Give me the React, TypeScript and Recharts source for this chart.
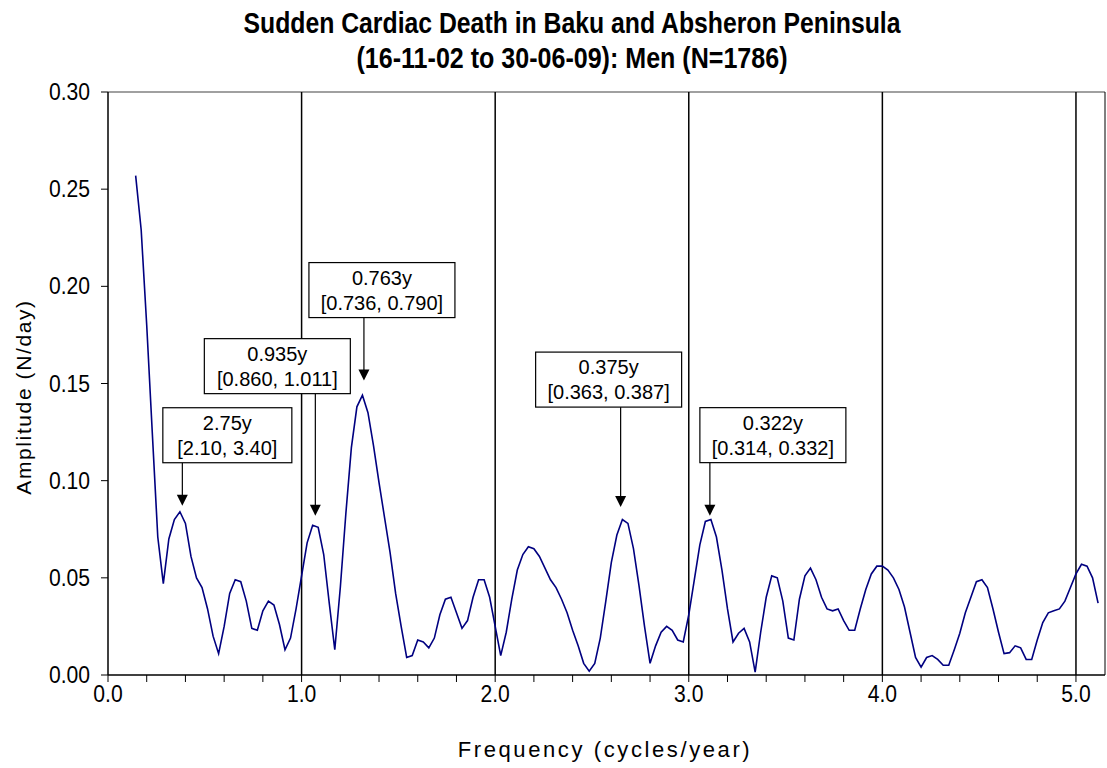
import React from 'react';
import { LineChart, Line, XAxis, YAxis, ReferenceLine, ReferenceDot } from 'recharts';

// spectrum sampled every 1/35 cycles/year, starting at 5/35
const firstHarmonic = 5;
const harmonicStep = 1 / 35;

const amplitudes = [
  0.257, 0.229, 0.18, 0.125, 0.071, 0.047, 0.07, 0.08, 0.084, 0.078,
  0.061, 0.05, 0.045, 0.034, 0.02, 0.011, 0.025, 0.042, 0.049, 0.048,
  0.038, 0.024, 0.023, 0.033, 0.038, 0.036, 0.026, 0.013, 0.019, 0.034,
  0.051, 0.068, 0.077, 0.076, 0.062, 0.037, 0.013, 0.045, 0.083, 0.117,
  0.138, 0.144, 0.135, 0.118, 0.099, 0.081, 0.063, 0.042, 0.025, 0.009,
  0.01, 0.018, 0.017, 0.014, 0.019, 0.031, 0.039, 0.04, 0.032, 0.024,
  0.028, 0.04, 0.049, 0.049, 0.04, 0.025, 0.01, 0.022, 0.039, 0.054,
  0.062, 0.066, 0.065, 0.061, 0.055, 0.049, 0.045, 0.039, 0.032, 0.023,
  0.015, 0.006, 0.002, 0.006, 0.019, 0.038, 0.058, 0.072, 0.08, 0.078,
  0.065, 0.046, 0.025, 0.006, 0.015, 0.022, 0.025, 0.023, 0.018, 0.017,
  0.031, 0.049, 0.067, 0.079, 0.08, 0.071, 0.054, 0.034, 0.017, 0.0215,
  0.024, 0.017, 0.0015, 0.022, 0.04, 0.051, 0.05, 0.038, 0.019, 0.018,
  0.039, 0.051, 0.055, 0.049, 0.04, 0.034, 0.033, 0.034, 0.028, 0.023,
  0.023, 0.034, 0.044, 0.052, 0.056, 0.056, 0.054, 0.05, 0.044, 0.035,
  0.022, 0.009, 0.004, 0.009, 0.01, 0.008, 0.005, 0.005, 0.013, 0.0215,
  0.032, 0.04, 0.048, 0.049, 0.045, 0.034, 0.022, 0.011, 0.0115, 0.015,
  0.014, 0.008, 0.008, 0.018, 0.027, 0.032, 0.033, 0.034, 0.038, 0.045,
  0.052, 0.057, 0.056, 0.05, 0.037,
];

const xTicks = [0, 0.2, 0.4, 0.6, 0.8, 1, 1.2, 1.4, 1.6, 1.8, 2, 2.2, 2.4, 2.6, 2.8, 3, 3.2, 3.4, 3.6, 3.8, 4, 4.2, 4.4, 4.6, 4.8, 5];
const yTicks = [0, 0.05, 0.1, 0.15, 0.2, 0.25, 0.3];
const gridLines = [1, 2, 3, 4, 5];

// peak callouts: period, confidence interval, arrow tip (freq, amplitude)
const calloutPeriods = ['2.75y', '0.935y', '0.763y', '0.375y', '0.322y'];
const calloutRanges = ['[2.10, 3.40]', '[0.860, 1.011]', '[0.736, 0.790]', '[0.363, 0.387]', '[0.314, 0.332]'];
const calloutFreqs = [0.384, 1.071, 1.322, 2.648, 3.109];
const calloutTips = [0.0871, 0.082, 0.1515, 0.0864, 0.082];

// pixel layout for each box: arrow length, box centre offset, box width
const calloutLayout = [
  { len: 43, dx: 45, w: 129 },
  { len: 122, dx: -38, w: 146 },
  { len: 63, dx: 18, w: 146 },
  { len: 100, dx: -12, w: 146 },
  { len: 53, dx: 63, w: 146 },
];

const data = amplitudes.map((a, i) => ({ freq: (firstHarmonic + i) * harmonicStep, amp: a }));

const font = 'Arial, "Liberation Sans", sans-serif';

// tall, slightly condensed tick text like the original
function XTick({ x, y, payload }: any) {
  const v = payload.value;
  if (Math.abs(v - Math.round(v)) > 1e-6) return null;
  return (
    <text transform={`translate(${x},${y + 14}) scale(0.88,1)`} textAnchor="middle" fontFamily={font} fontSize={24} fill="#000">
      {v.toFixed(1)}
    </text>
  );
}

function YTick({ x, y, payload }: any) {
  return (
    <text transform={`translate(${x},${y + 8}) scale(0.88,1)`} textAnchor="end" fontFamily={font} fontSize={24} fill="#000">
      {payload.value.toFixed(2)}
    </text>
  );
}

function Callout({ cx, cy, idx }: any) {
  const { len, dx, w } = calloutLayout[idx];
  const h = 55;
  const boxBottom = cy - len;
  const boxTop = boxBottom - h;
  const bx = cx + dx - w / 2;
  return (
    <g>
      <line x1={cx} y1={boxBottom} x2={cx} y2={cy - 10} stroke="#000" strokeWidth={1.2} />
      <polygon points={`${cx},${cy} ${cx - 5.5},${cy - 11} ${cx + 5.5},${cy - 11}`} fill="#000" />
      <rect x={bx} y={boxTop} width={w} height={h} fill="#fff" stroke="#000" strokeWidth={1.2} />
      <text x={cx + dx} y={boxTop + 22} textAnchor="middle" fontFamily={font} fontSize={20} fill="#000">
        {calloutPeriods[idx]}
      </text>
      <text x={cx + dx} y={boxTop + 47} textAnchor="middle" fontFamily={font} fontSize={20} fill="#000">
        {calloutRanges[idx]}
      </text>
    </g>
  );
}

export default function App() {
  return (
    <div style={{ position: 'absolute', left: 0, top: 0, width: 1107, height: 768, background: '#fff' }}>
      <LineChart width={1107} height={768} data={data} margin={{ top: 92, right: 2, bottom: 0, left: 0 }}>
        <XAxis
          dataKey="freq"
          type="number"
          domain={[0, 5.15]}
          ticks={xTicks}
          interval={0}
          height={93}
          tickSize={7}
          tickMargin={6}
          tick={<XTick />}
          axisLine={{ stroke: '#000', strokeWidth: 1.5 }}
          tickLine={{ stroke: '#000' }}
        />
        <YAxis
          type="number"
          domain={[0, 0.3]}
          ticks={yTicks}
          interval={0}
          width={108}
          tickSize={7}
          tickMargin={11}
          tick={<YTick />}
          axisLine={{ stroke: '#000', strokeWidth: 1.5 }}
          tickLine={{ stroke: '#000' }}
        />
        <ReferenceLine y={0.3} stroke="#808080" strokeWidth={1.5} />
        <ReferenceLine x={5.15} stroke="#000" strokeWidth={1} />
        {gridLines.map((g) => (
          <ReferenceLine key={g} x={g} stroke="#000" strokeWidth={1.5} />
        ))}
        <Line
          type="linear"
          dataKey="amp"
          stroke="#000080"
          strokeWidth={1.6}
          dot={false}
          isAnimationActive={false}
        />
        {calloutFreqs.map((f, i) => (
          <ReferenceDot
            key={i}
            x={f}
            y={calloutTips[i]}
            r={0}
            ifOverflow="visible"
            shape={(p: any) => <Callout cx={p.cx} cy={p.cy} idx={i} />}
          />
        ))}
      </LineChart>
      <svg width={1107} height={768} style={{ position: 'absolute', left: 0, top: 0, pointerEvents: 'none' }}>
        <text x={572} y={33} textAnchor="middle" fontFamily={font} fontWeight="bold" fontSize={29} textLength={657} lengthAdjust="spacingAndGlyphs" fill="#000">
          Sudden Cardiac Death in Baku and Absheron Peninsula
        </text>
        <text x={572} y={68} textAnchor="middle" fontFamily={font} fontWeight="bold" fontSize={29} textLength={431} lengthAdjust="spacingAndGlyphs" fill="#000">
          (16-11-02 to 30-06-09): Men (N=1786)
        </text>
        <text x={605} y={757} textAnchor="middle" fontFamily={font} fontSize={22} letterSpacing={2.6} fill="#000">
          Frequency (cycles/year)
        </text>
        <text
          x={0}
          y={0}
          transform="translate(31,397) rotate(-90)"
          textAnchor="middle"
          fontFamily={font}
          fontSize={21}
          letterSpacing={1.6}
          fill="#000"
        >
          Amplitude (N/day)
        </text>
      </svg>
    </div>
  );
}
